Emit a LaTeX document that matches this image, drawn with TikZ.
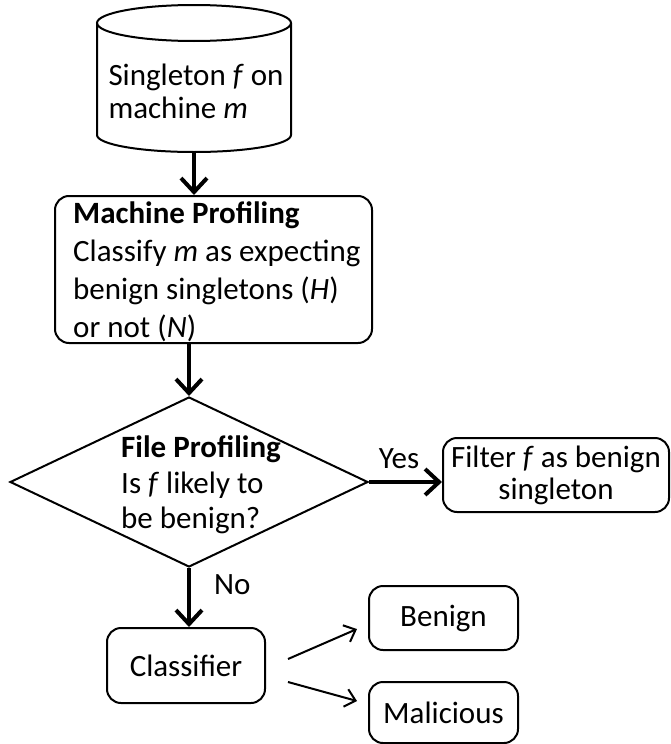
\documentclass[tikz,border=0pt]{standalone}
\usepackage{fontspec}
\setmainfont{Carlito}
\usetikzlibrary{shapes.geometric,arrows.meta,calc}
\begin{document}
\begin{tikzpicture}[x=1pt,y=-1pt,
  every node/.style={font=\fontsize{31}{38}\selectfont},
  box/.style={draw, line width=2pt, rounded corners=14pt, inner sep=0pt},
  thickarrow/.style={line width=4pt, -{Straight Barb[length=14pt,width=26pt]}},
  thinarrow/.style={line width=2pt, -{Straight Barb[length=10pt,width=18pt]}},
  lbl/.style={inner sep=0pt}]
\useasboundingbox (0,0) rectangle (670,744);

% input: the singleton file on its machine (drum drawn as a path)
\draw[line width=2pt] (194,23) ellipse [x radius=97, y radius=18];
\draw[line width=2pt] (97,23) -- (97,135)
  arc[start angle=180, end angle=0, x radius=97, y radius=17] -- (291,23);
\coordinate (srcbot) at (194,152);
\node[lbl, align=left, font=\fontsize{31}{33}\selectfont] (srctext) at (196,91)
  {Singleton \textit{f} on\\machine \textit{m}};

% machine profiling step
\node[box, minimum width=317pt, minimum height=147pt] (mach) at (213.5,269.5) {};
\node[lbl, align=left, anchor=west] (machtext) at (73,272)
  {\textbf{Machine Profiling}\\Classify \textit{m} as expecting\\benign singletons (\textit{H})\\or not (\textit{N})};

% file profiling decision
\node[draw, diamond, line width=2pt, minimum width=358pt, minimum height=170pt,
      inner sep=0pt, aspect=2.1] (filep) at (189,482) {};
\node[lbl, align=left, anchor=west, font=\fontsize{31}{35.5}\selectfont] (filetext) at (121,485)
  {\textbf{File Profiling}\\Is \textit{f} likely to\\be benign?};

% outcomes
\node[box, minimum width=226pt, minimum height=74pt, align=center,
      font=\fontsize{31}{32}\selectfont] (filter) at (556,475)
  {Filter \textit{f} as benign\\singleton};
\node[box, minimum width=158pt, minimum height=75pt] (cls) at (186,665.5) {Classifier};
\node[box, minimum width=149pt, minimum height=64pt] (benign) at (443.5,618) {Benign};
\node[box, minimum width=149pt, minimum height=61pt] (mal) at (443.5,712.5) {Malicious};

% connectors
\draw[thickarrow] (srcbot) -- (srcbot |- mach.north);
\draw[thickarrow] (filep.north |- mach.south) -- (filep.north);
\draw[thickarrow] (filep.east) -- (filep.east -| filter.west);
\node[lbl, anchor=base] (yes) at (399,468) {Yes};
\draw[thickarrow] (filep.south) -- (filep.south |- cls.north);
\node[lbl, anchor=base west] (no) at (214,594) {No};
\draw[thinarrow] ($(cls.east)+(22,-6.5)$) -- ($(benign.west)+(-11,11)$);
\draw[thinarrow] ($(cls.east)+(22,16.5)$) -- ($(mal.west)+(-11,-11.5)$);
\end{tikzpicture}
\end{document}
